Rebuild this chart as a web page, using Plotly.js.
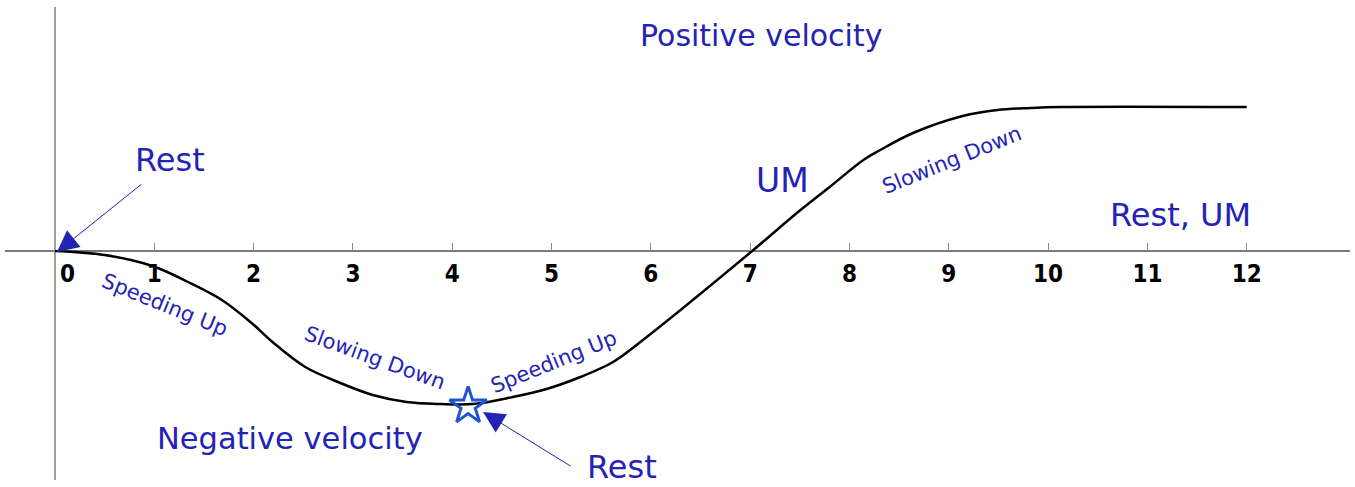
<!DOCTYPE html>
<html>
<head>
<meta charset="utf-8">
<script src="https://cdn.plot.ly/plotly-3.0.1.min.js"></script>
<style>
  html, body { margin: 0; padding: 0; background: #fff; }
  #chart { width: 1355px; height: 487px; }
</style>
</head>
<body>
<div id="chart"></div>
<script>
// velocity curve (time on x, velocity on y)
const timeX = [0, 0.50, 0.98, 1.34, 1.68, 1.98, 2.19, 2.52, 2.85, 3.20, 3.54, 3.88, 4.21,
               4.61, 4.95, 5.29, 5.62, 5.92, 7.02, 7.47, 7.80, 8.14, 8.31, 8.64,
               9.14, 9.49, 9.82, 10.12, 12];
const velY  = [0, -0.04, -0.15, -0.31, -0.49, -0.72, -0.91, -1.16, -1.31, -1.44, -1.51, -1.53, -1.53,
               -1.46, -1.38, -1.26, -1.11, -0.89, 0, 0.38, 0.64, 0.91, 1.01, 1.18,
               1.35, 1.41, 1.43, 1.44, 1.44];

const tickVals = [1, 2, 3, 4, 5, 6, 7, 8, 9, 10, 11, 12];
const tickText = tickVals.map(String);

// the second rest point (star)
const restX = [4.16];
const restY = [-1.55];

// labels: text, x, y, size, angle
const labelText  = ["Positive velocity", "Negative velocity", "Rest", "Rest", "UM", "Rest, UM",
                    "Speeding Up", "Slowing Down", "Speeding Up", "Slowing Down"];
const labelX     = [7.11, 2.37, 1.16, 5.71, 7.33, 11.33, 1.11, 3.22, 5.02, 9.03];
const labelY     = [2.16, -1.87, 0.91, -2.16, 0.71, 0.36, -0.54, -1.07, -1.11, 0.91];
const labelSize  = [30, 30.5, 32, 32, 33, 32, 21, 21, 21, 21];
const labelAngle = [0, 0, 0, 0, 0, 0, 22, 20, -22, -22];

const C = {
  ink: "#000", blue: "#2323b4", star: "#1f55d0", axis: "#8c8c8c",
  hand: "DejaVu Sans, sans-serif",
  tick: "DejaVu Sans Condensed, Liberation Sans, sans-serif",
};

const data = [
  { x: timeX, y: velY, mode: "lines", hoverinfo: "skip",
    line: { color: C.ink, width: 2.5, shape: "spline", smoothing: 1 } },
  { x: restX, y: restY, mode: "markers", hoverinfo: "skip",
    marker: { symbol: "star-open", size: 28, color: C.star, line: { color: C.star, width: 3 } } },
];

const annotations = labelText.map((t, i) => ({
  text: t, x: labelX[i], y: labelY[i], xref: "x", yref: "y", showarrow: false,
  textangle: labelAngle[i], font: { family: C.hand, size: labelSize[i], color: C.blue },
}));
// "0" sits off the axis, to the right of it
annotations.push({ text: "0", x: 0.13, y: -0.23, xref: "x", yref: "y", showarrow: false,
  font: { family: C.tick, size: 24, color: "#000", weight: "bold" } });
// arrows pointing at the two rest points
annotations.push({ text: "", x: 0.02, y: -0.01, xref: "x", yref: "y", showarrow: true,
  ax: 86, ay: -69, arrowhead: 2, arrowsize: 4.3, arrowwidth: 1, arrowcolor: C.blue });
annotations.push({ text: "", x: 4.31, y: -1.61, xref: "x", yref: "y", showarrow: true,
  ax: 89, ay: 55, arrowhead: 2, arrowsize: 4.3, arrowwidth: 1, arrowcolor: C.blue });

const layout = {
  width: 1355, height: 487,
  margin: { l: 5, r: 5, t: 7, b: 7 },
  paper_bgcolor: "#fff", plot_bgcolor: "#fff",
  showlegend: false,
  xaxis: {
    range: [-0.5035, 13.04], anchor: "free", position: 0.4841,
    showgrid: false, showline: false,
    zeroline: true, zerolinecolor: "#a0a0a0", zerolinewidth: 2,
    tickmode: "array", tickvals: tickVals, ticktext: tickText,
    ticks: "inside", ticklen: 8, tickwidth: 1, tickcolor: C.axis,
    ticklabelstandoff: 6,
    tickfont: { family: C.tick, size: 24, color: "#000", weight: "bold" },
  },
  yaxis: {
    range: [-2.29, 2.44],
    showgrid: false, showline: false, showticklabels: false, ticks: "",
    zeroline: true, zerolinecolor: "#7a7a7a", zerolinewidth: 1.5,
  },
  annotations: annotations,
};

Plotly.newPlot("chart", data, layout, { displayModeBar: false, staticPlot: true });
</script>
</body>
</html>
